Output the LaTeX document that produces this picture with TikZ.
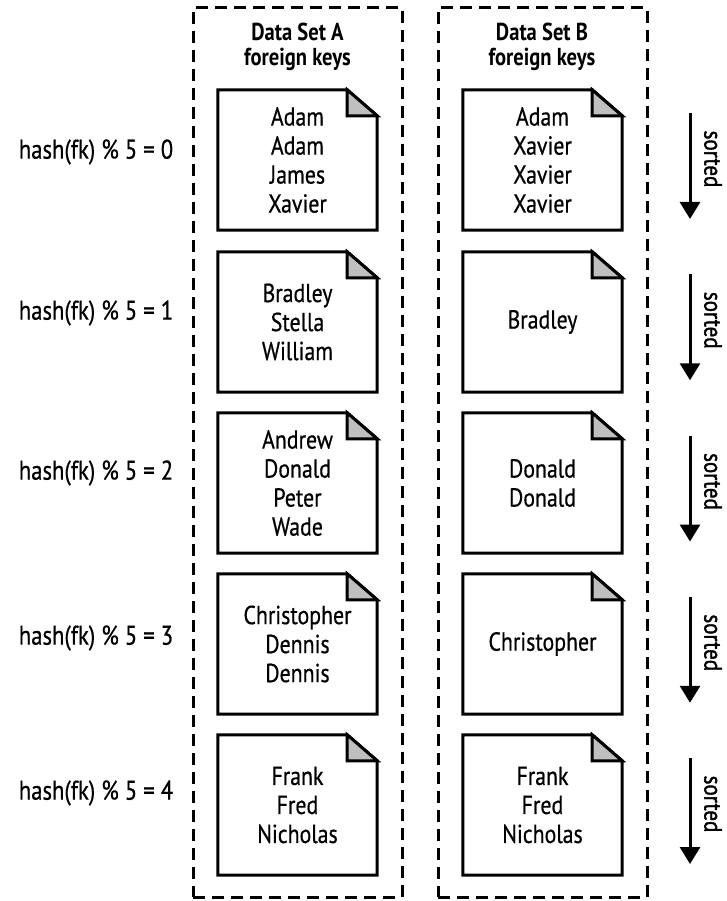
\documentclass[tikz,border=0pt]{standalone}
\usepackage{fontspec}
\usetikzlibrary{arrows.meta}
\newfontfamily\cfont[FakeStretch=0.84,FakeBold=0.6]{PT Sans}
\newfontfamily\sfont[FakeStretch=0.84,FakeBold=1.4]{PT Sans}
\newfontfamily\tfont[FakeStretch=0.84]{PT Sans}
\tikzset{
  setbox/.style={draw, line width=3pt, dash pattern=on 12pt off 7pt, minimum width=209pt, minimum height=889pt, inner sep=0},
  docbox/.style={minimum width=159pt, minimum height=140pt, inner sep=0, align=center, font=\cfont\fontsize{26}{29}\selectfont},
  doclines/.style={line width=3pt, line join=miter},
  fold/.style={line width=3pt, fill=black!25, line join=miter},
  title/.style={align=center, font=\tfont\bfseries\fontsize{24.5}{25}\selectfont},
  hashlbl/.style={font=\cfont\fontsize{27}{29}\selectfont},
  sortlbl/.style={rotate=-90, font=\sfont\fontsize{25}{26}\selectfont},
  sortarrow/.style={line width=3pt, -{Triangle[width=20pt,length=17pt]}}
}
\begin{document}
\begin{tikzpicture}[x=1pt,y=-1pt]
\useasboundingbox (0,0) rectangle (727,901);
\node[setbox] (boxA) at (297.5,452.5) {};
\node[setbox] (boxB) at (542.5,452.5) {};
\node[title] (titleA) at (297.5,47) {Data Set A\\foreign keys};
\node[title] (titleB) at (542,47) {Data Set B\\foreign keys};
% documents
\node[docbox] (a0) at (297.5,160) {Adam\\Adam\\James\\Xavier};
\node[docbox] (a1) at (297.5,322) {Bradley\\Stella\\William};
\node[docbox] (a2) at (297.5,483) {Andrew\\Donald\\Peter\\Wade};
\node[docbox] (a3) at (297.5,644) {Christopher\\Dennis\\Dennis};
\node[docbox] (a4) at (297.5,805) {Frank\\Fred\\Nicholas};
\node[docbox] (b0) at (542.5,160) {Adam\\Xavier\\Xavier\\Xavier};
\node[docbox] (b1) at (542.5,322) {Bradley};
\node[docbox] (b2) at (542.5,483) {Donald\\Donald};
\node[docbox] (b3) at (542.5,644) {Christopher};
\node[docbox] (b4) at (542.5,805) {Frank\\Fred\\Nicholas};
\foreach \n in {a0,a1,a2,a3,a4,b0,b1,b2,b3,b4}{
  \draw[doclines] (\n.south west) -- (\n.north west) -- ([xshift=-30pt]\n.north east)
     -- ([yshift=-26pt]\n.north east) -- (\n.south east) -- cycle;
  \filldraw[fold] ([xshift=-30pt]\n.north east) -- ([xshift=-30pt,yshift=-26pt]\n.north east)
     -- ([yshift=-26pt]\n.north east) -- cycle;
}
% hash labels
\node[hashlbl] (h0) at (96,152) {hash(fk) \% 5 = 0};
\node[hashlbl] (h1) at (96,313) {hash(fk) \% 5 = 1};
\node[hashlbl] (h2) at (96,473) {hash(fk) \% 5 = 2};
\node[hashlbl] (h3) at (96,638) {hash(fk) \% 5 = 3};
\node[hashlbl] (h4) at (96,793) {hash(fk) \% 5 = 4};
% sorted arrows
\foreach \k in {0,1,2,3,4}{
  \coordinate (s\k) at (690,{113+161.25*\k});
  \coordinate (e\k) at (690,{219+161.25*\k});
  \draw[sortarrow] (s\k) -- (e\k);
  \node[sortlbl] (t\k) at (713,{159+161.25*\k}) {sorted};
}
\end{tikzpicture}
\end{document}
